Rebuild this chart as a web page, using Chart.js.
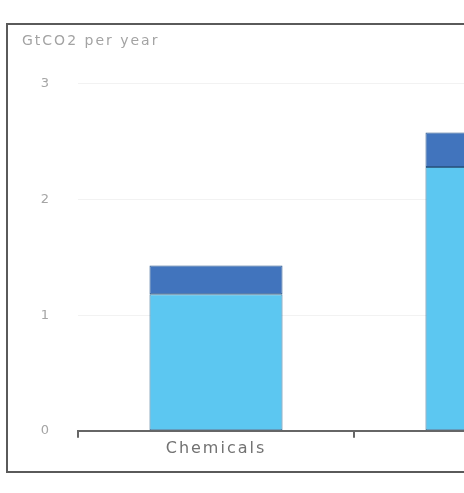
<!DOCTYPE html>
<html>
<head>
<meta charset="utf-8">
<script src="https://cdn.jsdelivr.net/npm/chart.js@4.4.1/dist/chart.umd.min.js"></script>
<style>
  html, body { margin: 0; padding: 0; background: #fff; overflow: hidden; width: 464px; height: 493px; }
  #frame { position: absolute; left: 6px; top: 23px; width: 640px; height: 446px;
           border: 2px solid #5a5a5a; background: #fff; }
  #c { display: block; }
</style>
</head>
<body>
<div id="frame"><canvas id="c" width="640" height="446"></canvas></div>
<script>
const categories = ["Chemicals", "Steel"];
const baseValues = [1.18, 2.28];
const topValues = [0.25, 0.30];
const yTicks = [0, 1, 2, 3];
const unitLabel = "GtCO2 per year";

const spacing = {
  id: 'spacing',
  beforeLayout(chart) { chart.ctx.letterSpacing = '2px'; },
  beforeDraw(chart) { chart.ctx.letterSpacing = '2px'; }
};

new Chart(document.getElementById('c'), {
  type: 'bar',
  data: {
    labels: categories,
    datasets: [
      { data: baseValues, backgroundColor: '#5cc7f1', borderColor: '#356a90', borderWidth: 1, borderSkipped: false },
      { data: topValues, backgroundColor: '#4174bd', borderColor: '#2c588c', borderWidth: 1, borderSkipped: false }
    ]
  },
  plugins: [spacing],
  options: {
    responsive: false,
    animation: false,
    devicePixelRatio: 1,
    layout: { padding: { left: 14, right: 18, top: 0, bottom: 12 } },
    datasets: { bar: { categoryPercentage: 1, barPercentage: 0.482 } },
    plugins: {
      legend: { display: false },
      tooltip: { enabled: false },
      title: {
        display: true, text: unitLabel, align: 'start', color: '#a3a3a3',
        font: { family: 'DejaVu Sans', size: 14, weight: 'normal' },
        padding: { top: 8, bottom: 34 }
      }
    },
    scales: {
      x: {
        stacked: true,
        offset: true,
        border: { display: true, color: '#666', width: 2 },
        grid: { display: true, drawOnChartArea: false, drawTicks: true, tickLength: 7, offset: true, color: '#666', lineWidth: 2 },
        ticks: { color: '#727272', padding: 1, font: { family: 'DejaVu Sans', size: 16 } }
      },
      y: {
        stacked: true,
        min: 0, max: 3,
        afterFit(scale) { scale.width = 56; },
        afterBuildTicks(scale) { scale.ticks = yTicks.map(v => ({ value: v })); },
        border: { display: false },
        grid: { color: '#f2f2f2', drawTicks: false, lineWidth: 1 },
        ticks: { color: '#a5a5a5', padding: 27, font: { family: 'DejaVu Sans', size: 13 } }
      }
    }
  }
});
</script>
</body>
</html>
